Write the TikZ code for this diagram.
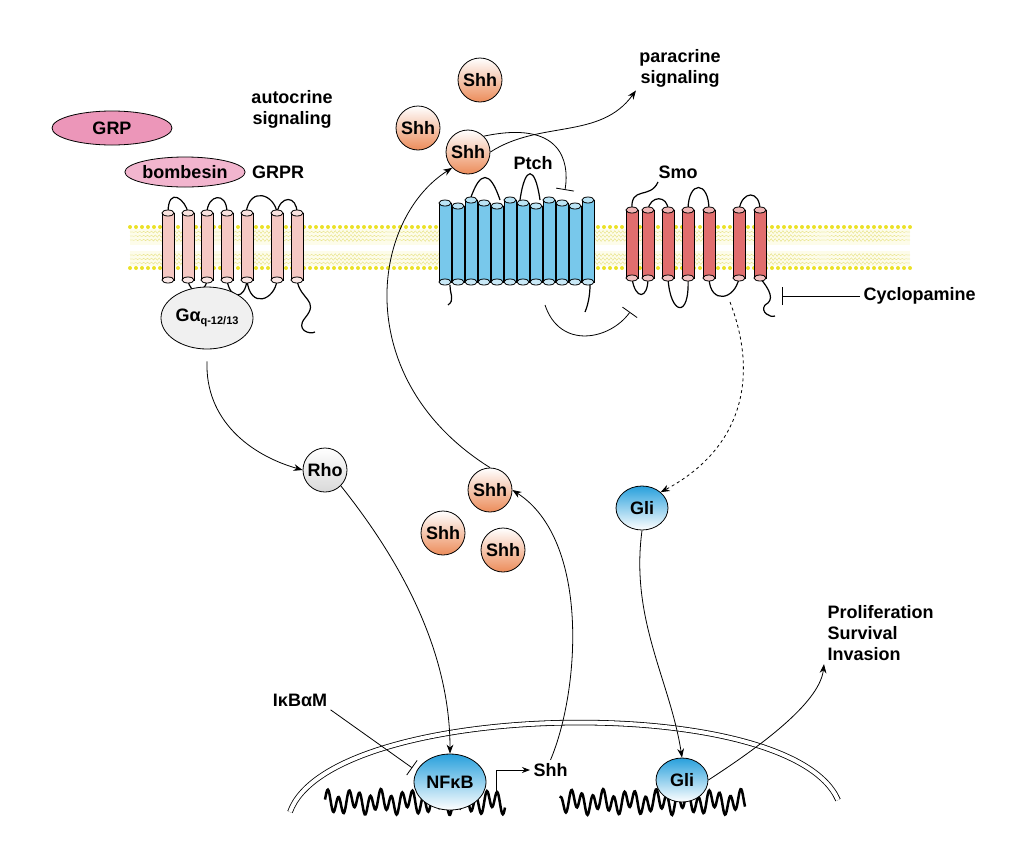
\documentclass[tikz,border=0pt]{standalone}
\usepackage{fontspec}
\setmainfont{Liberation Sans}
\usetikzlibrary{arrows.meta,calc,shapes.geometric}

\definecolor{pinkfill}{RGB}{236,150,185}
\definecolor{shhfill}{RGB}{236,140,90}
\definecolor{glifill}{RGB}{40,160,220}
\definecolor{helixred}{RGB}{225,110,110}
\definecolor{helixpale}{RGB}{245,200,195}
\definecolor{helixblue}{RGB}{120,200,235}
\definecolor{lipid}{RGB}{235,225,40}

% one membrane helix: x, top, bottom, colour
\newcommand{\tmhelix}[4]{%
  \filldraw[fill=#4,thick] (#1-6,#2) rectangle (#1+6,#3);
  \filldraw[fill=#4!50,thick] (#1,#2) ellipse (6pt and 3pt);
  \filldraw[fill=#4!40,thick] (#1,#3) ellipse (6pt and 3pt);
}

\tikzset{
  lbl/.style={font=\fontsize{18}{21}\selectfont\bfseries},
  shh/.style={circle,draw,thick,minimum size=44pt,inner sep=0pt,top color=white,bottom color=shhfill,lbl},
  gli/.style={ellipse,draw,thick,minimum width=52pt,minimum height=44pt,inner sep=0pt,top color=glifill,bottom color=white,lbl},
  link/.style={thick,-{Stealth[length=9pt]}},
  block/.style={thick,-{Bar[width=18pt]}},
}

\begin{document}
\begin{tikzpicture}[x=1pt,y=-1pt]
\useasboundingbox (0,0) rectangle (1032,849);

%Membrane
\fill[lipid!10] (130,229) rectangle (910,245);
\fill[lipid!10] (130,251) rectangle (910,266);
\foreach \yy in {232,236,240,255,259,263}
  \draw[lipid!90!black!80,very thin] plot[domain=130:910,samples=400] (\x,{\yy+1.5*sin(mod(\x,4)*90)});
\foreach \xx in {130,136,...,910} {
  \fill[lipid] (\xx,227) circle (2pt);
  \fill[lipid] (\xx,268) circle (2pt);
}

%GRPR loops and helices
\draw[very thick] (168,213) .. controls (168,185) and (186,200) .. (188,213);
\draw[very thick] (207,213) .. controls (207,195) and (227,190) .. (227,213);
\draw[very thick] (246,213) .. controls (250,185) and (275,195) .. (277,213);
\draw[very thick] (188,280) .. controls (190,295) and (205,295) .. (207,280);
\draw[very thick] (227,280) .. controls (230,300) and (245,300) .. (247,280);
\draw[very thick] (247,280) .. controls (250,310) and (275,300) .. (277,280);
\draw[very thick] (297,280) .. controls (300,300) and (320,300) .. (305,318);
\draw[very thick] (305,318) .. controls (295,330) and (310,335) .. (315,332);
\draw[very thick] (277,213) .. controls (280,195) and (297,195) .. (297,213);
\foreach \hx in {168,188,207,227,247,277,297} {
  \tmhelix{\hx}{213}{280}{helixpale}
}

%Ptch loops and helices
\draw[very thick] (470,200) .. controls (480,170) and (490,170) .. (500,200);
\draw[very thick] (520,200) .. controls (525,165) and (535,165) .. (540,200);
\draw[very thick] (450,285) .. controls (450,295) and (455,300) .. (448,305);
\draw[very thick] (590,285) .. controls (590,295) and (588,305) .. (585,312);
\foreach \hx [count=\i] in {445,458,471,484,497,510,523,536,549,562,575,588} {
  \pgfmathsetmacro{\htop}{200+mod(\i,3)*3}
  \tmhelix{\hx}{\htop}{282}{helixblue}
}

%Smo loops and helices
\draw[very thick] (632,210) .. controls (630,185) and (650,200) .. (658,182);
\draw[very thick] (648,210) .. controls (650,195) and (668,195) .. (668,210);
\draw[very thick] (688,210) .. controls (688,180) and (709,180) .. (709,210);
\draw[very thick] (739,210) .. controls (742,190) and (760,190) .. (760,210);
\draw[very thick] (632,278) .. controls (635,300) and (648,300) .. (648,278);
\draw[very thick] (668,278) .. controls (670,315) and (690,320) .. (688,278);
\draw[very thick] (709,278) .. controls (710,305) and (735,300) .. (739,278);
\draw[very thick] (760,278) .. controls (770,290) and (775,300) .. (765,305);
\draw[very thick] (765,305) .. controls (760,312) and (770,318) .. (775,316);
\foreach \hx in {632,648,668,688,709,739,760} {
  \tmhelix{\hx}{210}{278}{helixred}
}

%Ligands and labels above the membrane
\node[ellipse,draw,thick,fill=pinkfill,minimum width=120pt,minimum height=34pt,lbl] (GRP) at (112,128) {GRP};
\node[ellipse,draw,thick,fill=pinkfill!70,minimum width=118pt,minimum height=30pt,inner sep=0pt,lbl] (bombesin) at (185,172) {bombesin};
\node[lbl] (GRPR) at (278,172) {GRPR};
\node[lbl,align=center] (autocrine) at (292,109) {autocrine\\signaling};
\node[shh] (Shh1) at (480,80) {Shh};
\node[shh] (Shh2) at (418,128) {Shh};
\node[shh] (Shh3) at (468,152) {Shh};
\node[lbl,align=center] (paracrine) at (680,68) {paracrine\\signaling};
\node[lbl] (Ptch) at (533,163) {Ptch};
\node[lbl] (Smo) at (678,172) {Smo};
\node[lbl,anchor=west] (Cyclopamine) at (860,296) {Cyclopamine};
\coordinate (smoC) at (782,296);

%Cytoplasm
\node[ellipse,draw,thick,fill=gray!12,minimum width=92pt,minimum height=62pt,inner sep=0pt,lbl] (Ga) at (207,318) {Gα\raisebox{-3pt}{\fontsize{11}{11}\selectfont q-12/13}};
\node[circle,draw,thick,minimum size=44pt,inner sep=0pt,top color=white,bottom color=gray!30,lbl] (Rho) at (325,470) {Rho};
\node[shh] (Shh4) at (490,490) {Shh};
\node[shh] (Shh5) at (443,533) {Shh};
\node[shh] (Shh6) at (503,550) {Shh};
\node[gli] (Gli1) at (642,508) {Gli};

%Nucleus
\draw[thick,double,double distance=4pt] (290,812) .. controls (330,700) and (790,690) .. (838,800);
\foreach \sx/\ex in {325/505,560/745}
  \draw[line width=2.5pt] plot[domain=\sx:\ex,samples=250] (\x,{802+9*sin((\x-500)*34)+4*sin(\x*13)});
\node[gli,minimum width=72pt,minimum height=56pt] (NFkB) at (450,782) {NFκB};
\node[gli] (Gli2) at (682,780) {Gli};
\node[lbl] (IkBaM) at (300,700) {IκBαM};
\node[lbl,anchor=west] (ShhGene) at (530,770) {Shh};
\node[lbl,align=left,anchor=west] (Outcome) at (824,633) {Proliferation\\Survival\\Invasion};

%Connectors
\draw[link] (Ga.south) ++(0,12) .. controls (205,420) and (250,455) .. (Rho.west);
\draw[link] (Rho.south east) .. controls (400,560) and (450,650) .. (NFkB.north);
\draw[block] (IkBaM.south east) -- ($(NFkB.north west)+(-12,6)$);
\draw[thick,-{Stealth[length=8pt]}] ($(NFkB.east)+(10,14)$) -- ++(0,-26) -- (ShhGene.west);
\draw[link] (ShhGene.north) .. controls (580,690) and (590,540) .. (Shh4.east);
\draw[link] (Shh4.north) .. controls (350,380) and (370,220) .. (Shh3.south west);
\draw[link] (Shh3.east) .. controls (540,120) and (600,140) .. (paracrine.south west);
\draw[block] (Shh3.north east) .. controls (560,120) and (570,160) .. (565,190);
\draw[block] (545,305) .. controls (560,350) and (610,340) .. (630,312);
\draw[thick,dashed,-{Stealth[length=9pt]}] (730,302) .. controls (760,380) and (740,450) .. (Gli1.north east);
\draw[block] (Cyclopamine.west) -- (smoC);
\draw[link] (Gli1.south) .. controls (630,620) and (670,680) .. (Gli2.north);
\draw[link] (Gli2.east) .. controls (770,740) and (820,700) .. (Outcome.south west);
\end{tikzpicture}
\end{document}
